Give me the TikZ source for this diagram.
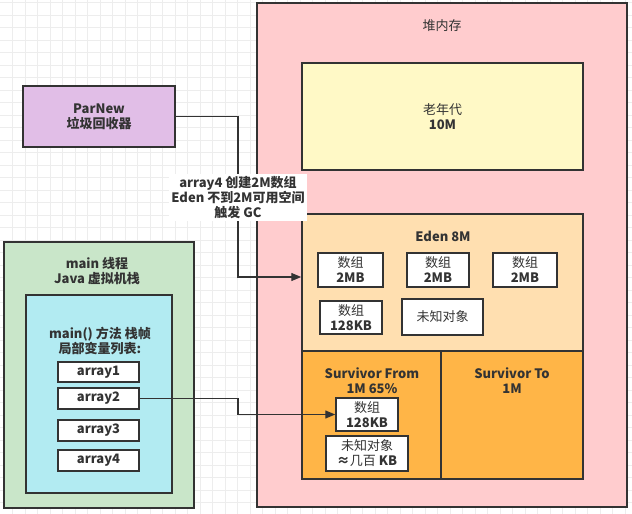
\documentclass[tikz,border=0pt]{standalone}
\usepackage{fontspec}
\setmainfont{Noto Sans CJK SC}
\usepackage{tikz}
\usetikzlibrary{positioning,arrows.meta,calc}
\usepackage{xcolor}

\definecolor{linec}{HTML}{333333}
\definecolor{textc}{HTML}{333333}
\definecolor{gridc}{HTML}{EDEDED}
\definecolor{heapc}{HTML}{FFCCCE}
\definecolor{oldc}{HTML}{FFF9C6}
\definecolor{edenc}{HTML}{FFDFB0}
\definecolor{survc}{HTML}{FFB547}
\definecolor{stackc}{HTML}{C9E6C9}
\definecolor{framec}{HTML}{B2EBF2}
\definecolor{gcc}{HTML}{E1BEE7}

\newcommand{\rg}[1]{{\mdseries #1}}

\begin{document}
\begin{tikzpicture}[x=1pt, y=-1pt,
    box/.style={draw=linec, line width=1.5pt, text=textc, align=center,
        inner sep=0pt, font=\fontsize{13}{15}\selectfont\bfseries},
    lbl/.style={text=textc, align=center, inner sep=0pt,
        font=\fontsize{13}{15}\selectfont\bfseries},
    conn/.style={draw=linec, line width=1.3pt, -{Triangle[length=10pt,width=8pt]}}]

    \useasboundingbox (0,0) rectangle (632,514);

    % --- GRID ---
    \foreach \i in {1,...,50} \draw[gridc, line width=0.8pt] (\i*12.5,0) -- (\i*12.5,514);
    \foreach \j in {0,...,40} \draw[gridc, line width=0.8pt] (0,2.5+\j*12.5) -- (632,2.5+\j*12.5);

    % --- HEAP ---
    \node[box, fill=heapc, minimum width=370pt, minimum height=504pt] (heap) at (442,255) {};
    \node[lbl] (heaplbl) at (442,26) {\rg{堆内存}};

    % Old generation
    \node[box, fill=oldc, minimum width=281pt, minimum height=107pt] (old) at (442.5,116.5) {\rg{老年代}\\10M};

    % Eden
    \node[box, fill=edenc, minimum width=281pt, minimum height=137pt] (eden) at (442.5,282.5) {};
    \node[lbl] (edenlbl) at (443,236) {Eden 8M};
    \node[box, fill=white, minimum width=65pt, minimum height=34pt] (e1) at (350.5,270) {\rg{数组}\\2MB};
    \node[box, fill=white, minimum width=62pt, minimum height=34pt] (e2) at (438,270) {\rg{数组}\\2MB};
    \node[box, fill=white, minimum width=64pt, minimum height=34pt] (e3) at (525,270) {\rg{数组}\\2MB};
    \node[box, fill=white, minimum width=62pt, minimum height=33pt] (e4) at (351,317.5) {\rg{数组}\\128KB};
    \node[box, fill=white, minimum width=81pt, minimum height=36pt] (e5) at (442.5,317) {\rg{未知对象}};

    % Survivor spaces
    \node[box, fill=survc, minimum width=139pt, minimum height=128pt] (sfrom) at (371.5,415) {};
    \node[box, fill=survc, minimum width=142pt, minimum height=128pt] (sto) at (512,415) {};
    \node[lbl] (sfromlbl) at (372,380.5) {Survivor From\\1M 65\%};
    \node[lbl] (stolbl) at (512,380.5) {Survivor To\\1M};
    \node[box, fill=white, minimum width=62pt, minimum height=33pt] (s1) at (367,414.5) {\rg{数组}\\128KB};
    \node[box, fill=white, minimum width=82pt, minimum height=35pt] (s2) at (367,453.5) {\rg{未知对象}\\≈\rg{几百} KB};

    % --- JAVA STACK ---
    \node[box, fill=stackc, minimum width=190pt, minimum height=266pt] (stack) at (99,375) {};
    \node[lbl] (stacklbl) at (97,271.5) {main 线程\\Java 虚拟机栈};
    \node[box, fill=framec, minimum width=146pt, minimum height=198pt] (frame) at (99,394) {};
    \node[lbl] (framelbl) at (100,341.5) {main() 方法 栈帧\\局部变量列表:};
    \node[box, fill=white, minimum width=81pt, minimum height=20pt] (a1) at (98.5,372) {array1};
    \node[box, fill=white, minimum width=81pt, minimum height=21pt] (a2) at (98.5,398.5) {array2};
    \node[box, fill=white, minimum width=81pt, minimum height=21pt] (a3) at (98.5,430.5) {array3};
    \node[box, fill=white, minimum width=81pt, minimum height=21pt] (a4) at (98.5,460.5) {array4};

    % --- GC ---
    \node[box, fill=gcc, minimum width=152pt, minimum height=61pt] (parnew) at (99,116.5) {ParNew\\垃圾回收器};

    % Connectors
    \coordinate (gcturn) at (238,277);
    \coordinate (a2turn) at (238,414.5);
    \draw[conn] (parnew.east) -| (gcturn) -- (eden.west |- gcturn);
    \draw[conn] (a2.east) -| (a2turn) -- (s1.west);
    \node[lbl, fill=white, inner sep=2pt] (gclbl) at (238,197.5) {array4 创建2M数组\\Eden 不到2M可用空间\\触发 GC};

\end{tikzpicture}
\end{document}
